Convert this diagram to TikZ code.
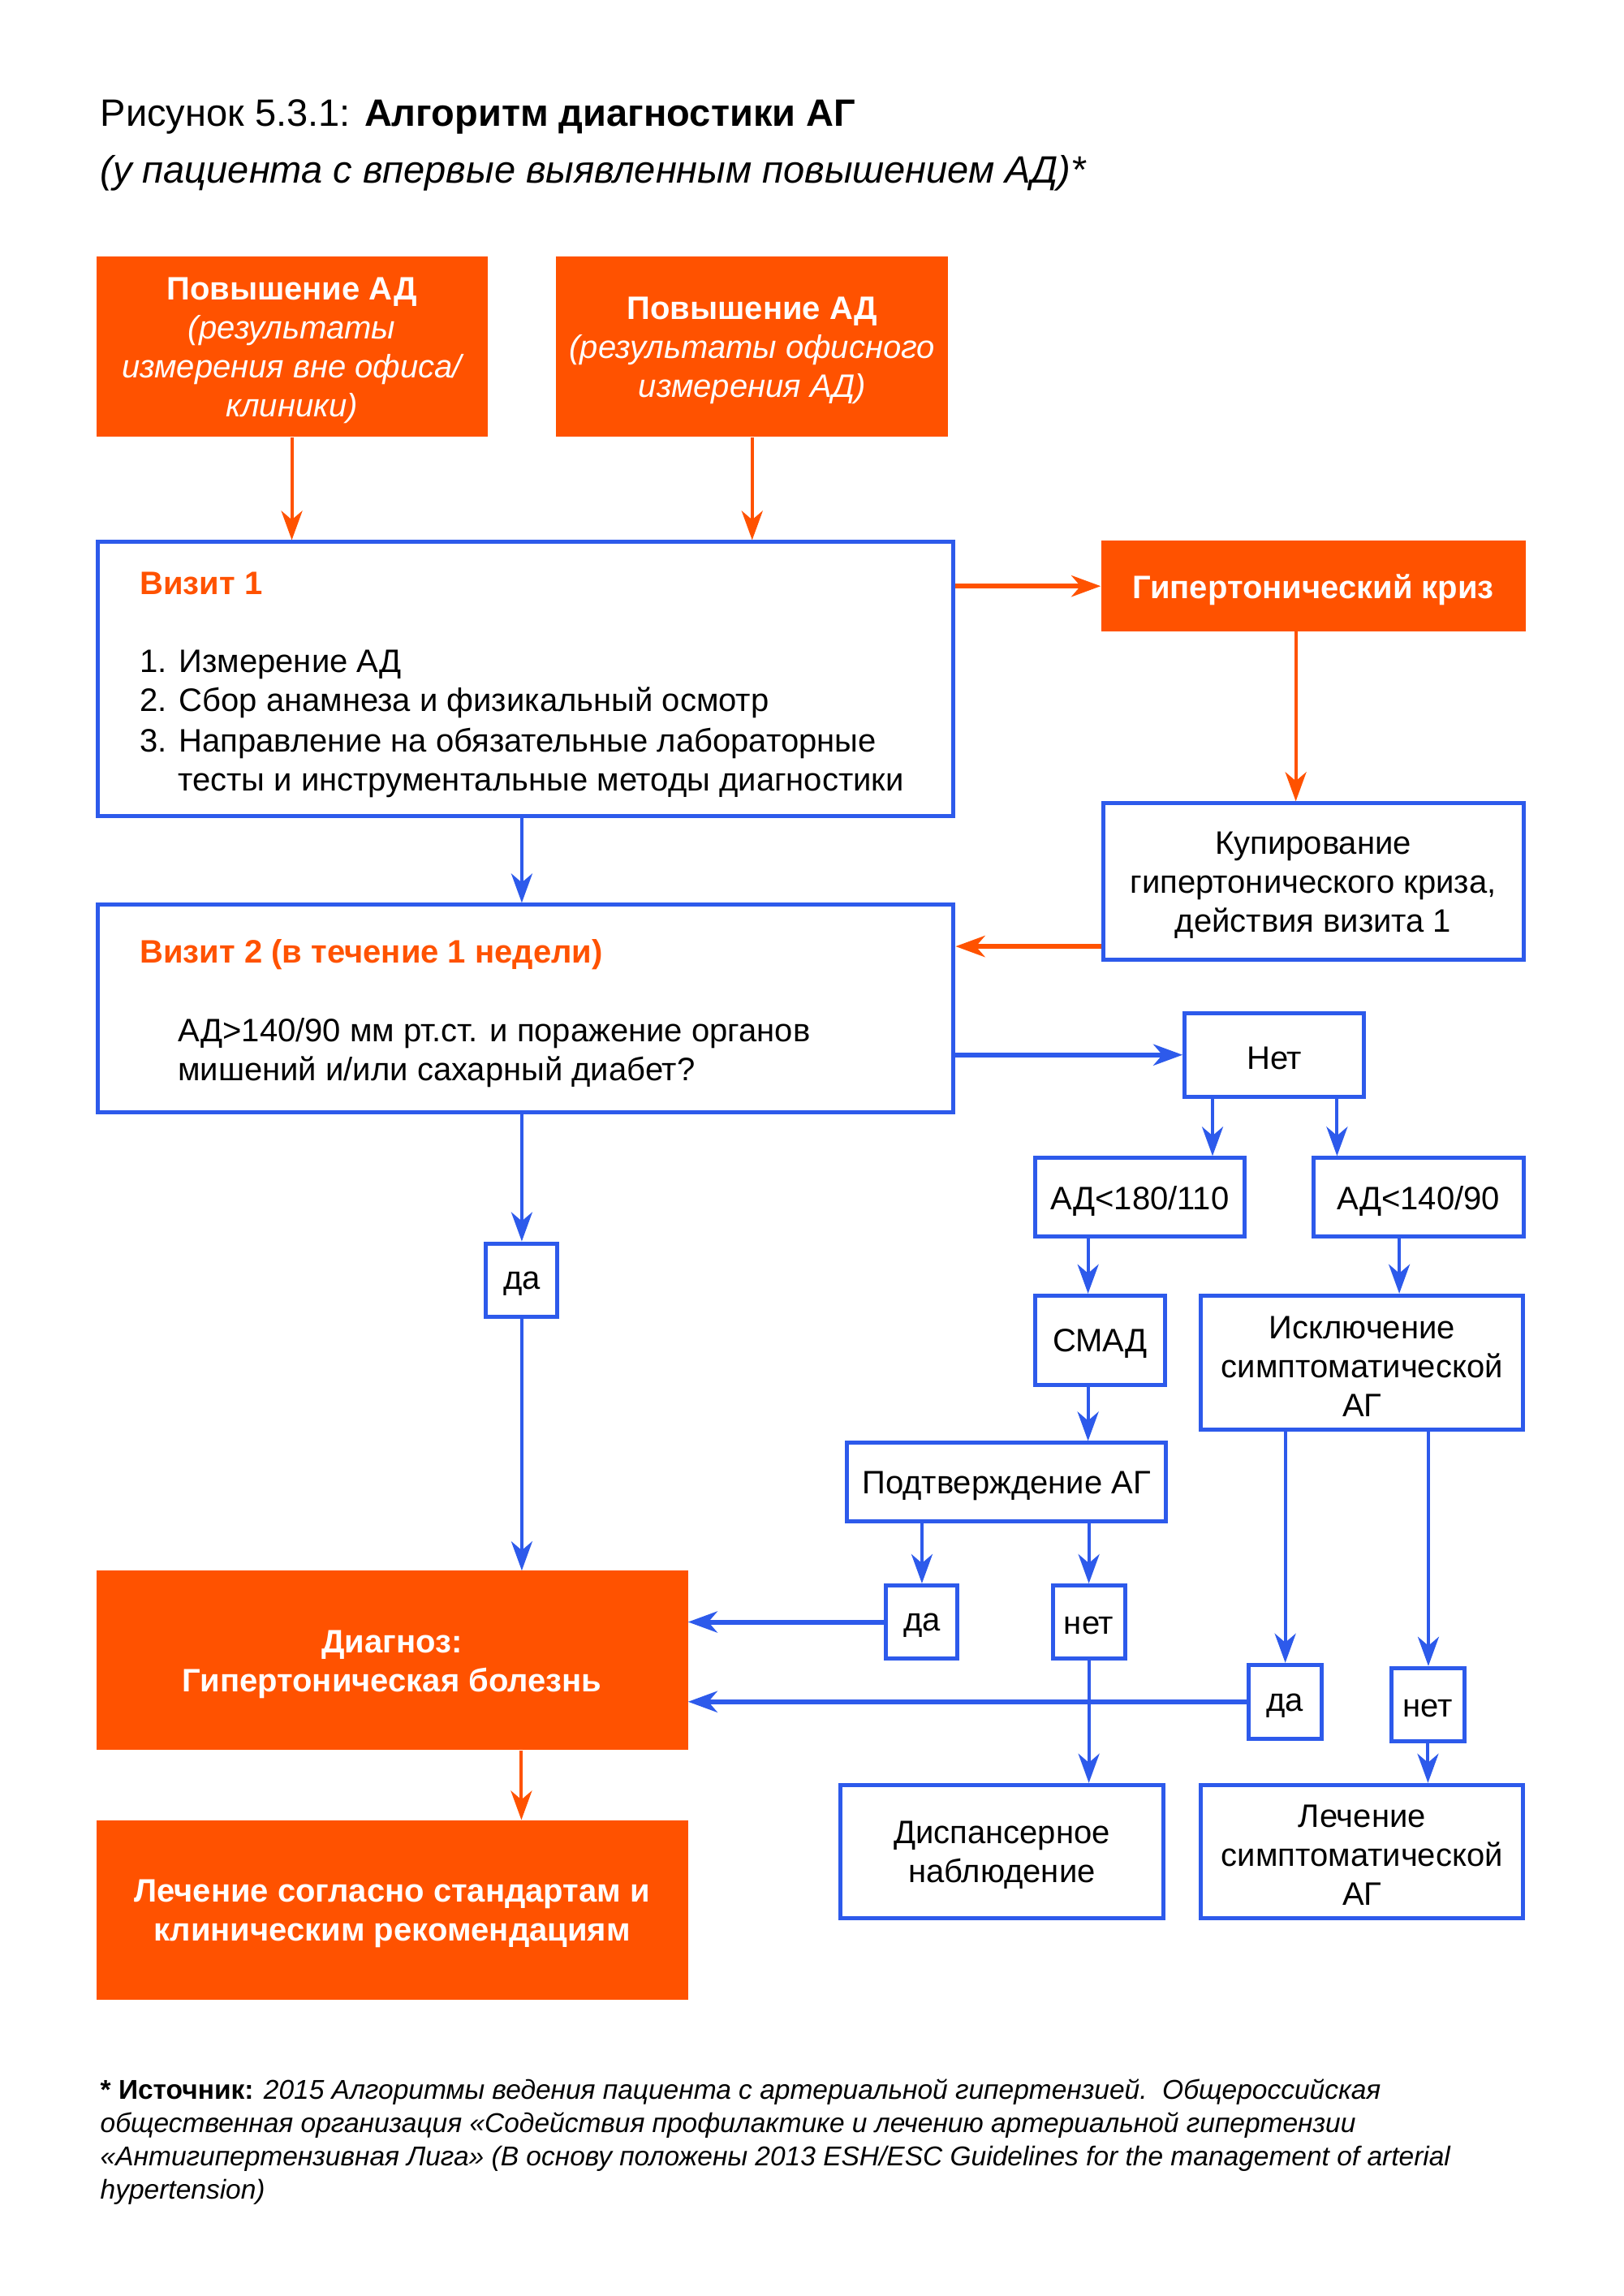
\documentclass[tikz,border=0pt]{standalone}
\usepackage{fontspec}
\setmainfont{Liberation Sans}
\usetikzlibrary{arrows.meta}
\definecolor{agorange}{RGB}{255,82,0}
\definecolor{agblue}{RGB}{45,90,235}
% #1 box style, #2 name, #3 position, #4 size options, #5 text style, #6 text
\newcommand\agbox[6]{%
  \node[#1, #4] (#2) at (#3) {};
  \node[#5] (#2t) at ([yshift=-4.5pt]#2.center) {#6};}
\begin{document}
\begin{tikzpicture}[x=0.996pt,y=-0.9975pt,
  bodyfont/.style={font=\fontsize{40}{48}\selectfont},
  obox/.style={fill=agorange, inner sep=0pt},
  bbox/.style={draw=agblue, line width=5pt, fill=white, inner sep=0pt},
  wtext/.style={text=white, align=center, inner sep=0pt, bodyfont},
  wbtext/.style={text=white, align=center, inner sep=0pt, font=\fontsize{40}{48}\selectfont\bfseries},
  ktext/.style={text=black, align=center, inner sep=0pt, bodyfont},
  lbl/.style={anchor=base west, inner sep=0pt, bodyfont},
  tip/.style={-{Stealth[length=36pt,width=26pt,inset=11pt]}},
  barr/.style={draw=agblue, line width=4pt, tip},
  barrh/.style={draw=agblue, line width=6pt, tip},
  oarr/.style={draw=agorange, line width=4pt, tip},
  oarrh/.style={draw=agorange, line width=6.5pt, tip}
]
\useasboundingbox[fill=white] (0,0) rectangle (2008.03,2836.09);

% title
\node[anchor=base west, inner sep=0pt, font=\fontsize{47}{52}\selectfont] (title) at (124,156) {Рисунок 5.3.1: \textbf{Алгоритм диагностики АГ}};
\node[anchor=base west, inner sep=0pt, font=\fontsize{47}{52}\selectfont\itshape] (subtitle) at (124,226) {(у пациента с впервые выявленным повышением АД)*};

% column coordinates
\coordinate (xa) at (1603,0);
\coordinate (xnl) at (1500,0);
\coordinate (xnr) at (1654,0);
\coordinate (xsm) at (1346,0);
\coordinate (xis) at (1731,0);
\coordinate (xda3) at (1590,0);
\coordinate (xnet3) at (1767,0);
\coordinate (xfin) at (645,0);
\coordinate (ykup) at (0,1169);

% boxes
\agbox{obox}{b1}{361,428.5}{minimum width=482pt, minimum height=222pt}{wtext}
  {\textbf{Повышение АД}\\ \itshape (результаты\\ \itshape измерения вне офиса/\\ \itshape клиники)}
\agbox{obox}{b2}{930.5,428.5}{minimum width=483pt, minimum height=222pt}{wtext}
  {\textbf{Повышение АД}\\ \itshape (результаты офисного\\ \itshape измерения АД)}

\node[bbox, minimum width=1054pt, minimum height=338pt] (v1) at (650.5,839) {};
\node[lbl, text=agorange, font=\fontsize{40}{48}\selectfont\bfseries] (v1t) at (173,734) {Визит 1};
\node[lbl] (v1a) at (173,831) {1. Измерение АД};
\node[lbl] (v1b) at (173,879) {2. Сбор анамнеза и физикальный осмотр};
\node[lbl] (v1c) at (173,929) {3. Направление на обязательные лабораторные};
\node[lbl] (v1d) at (220,977) {тесты и инструментальные методы диагностики};

\agbox{obox}{crisis}{1624.5,724}{minimum width=523pt, minimum height=112pt}{wbtext}{Гипертонический криз}
\agbox{bbox}{kup}{1624.5,1089}{minimum width=518pt, minimum height=193pt}{ktext}
  {Купирование\\ гипертонического криза,\\ действия визита 1}

\node[bbox, minimum width=1054pt, minimum height=256pt] (v2) at (650.5,1246) {};
\node[lbl, text=agorange, font=\fontsize{40}{48}\selectfont\bfseries] (v2t) at (173,1189) {Визит 2 (в течение 1 недели)};
\node[lbl] (v2a) at (220,1287) {АД>140/90 мм рт.ст. и поражение органов};
\node[lbl] (v2b) at (220,1335) {мишений и/или сахарный диабет?};

\agbox{bbox}{net}{1576.5,1303}{minimum width=221pt, minimum height=103pt}{ktext}{Нет}
\agbox{bbox}{a180}{1410,1479}{minimum width=258pt, minimum height=97pt}{ktext}{АД<180/110}
\agbox{bbox}{a140}{1754.5,1479}{minimum width=259pt, minimum height=97pt}{ktext}{АД<140/90}
\agbox{bbox}{da1}{645.5,1581}{minimum width=88pt, minimum height=90pt}{ktext}{да}
\agbox{bbox}{smad}{1361,1655.5}{minimum width=160pt, minimum height=110pt}{ktext}{СМАД}
\agbox{bbox}{iskl}{1685,1683}{minimum width=397pt, minimum height=165pt}{ktext}
  {Исключение\\ симптоматической\\ АГ}
\agbox{bbox}{podt}{1245,1831}{minimum width=393pt, minimum height=97pt}{ktext}{Подтверждение АГ}
\agbox{bbox}{da2}{1140.5,2003.5}{minimum width=88pt, minimum height=90pt}{ktext}{да}
\agbox{bbox}{net2}{1347,2003.5}{minimum width=89pt, minimum height=90pt}{ktext}{нет}
\agbox{obox}{diag}{485,2051}{minimum width=729pt, minimum height=221pt}{wbtext}
  {Диагноз:\\ Гипертоническая болезнь}
\agbox{bbox}{da3}{1589.5,2102}{minimum width=90pt, minimum height=91pt}{ktext}{да}
\agbox{bbox}{net3}{1766.5,2105.5}{minimum width=90pt, minimum height=90pt}{ktext}{нет}
\agbox{bbox}{disp}{1239.5,2287}{minimum width=398pt, minimum height=164pt}{ktext}
  {Диспансерное\\ наблюдение}
\agbox{bbox}{lech}{1685,2287}{minimum width=397pt, minimum height=164pt}{ktext}
  {Лечение\\ симптоматической\\ АГ}
\agbox{obox}{final}{485,2359}{minimum width=729pt, minimum height=221pt}{wbtext}
  {Лечение согласно стандартам и\\ клиническим рекомендациям}

% connectors
\draw[oarr] (b1.south) -- (b1.south |- v1.north);
\draw[oarr] (b2.south) -- (b2.south |- v1.north);
\draw[oarrh] (v1.east |- crisis) -- (crisis.west);
\draw[oarr] (crisis.south -| xa) -- (kup.north -| xa);
\draw[oarrh] (kup.west |- ykup) -- (v2.east |- ykup);
\draw[barr] (v1.south -| da1) -- (v2.north -| da1);
\draw[barrh] (v2.east |- net) -- (net.west);
\draw[barr] (net.south -| xnl) -- (a180.north -| xnl);
\draw[barr] (net.south -| xnr) -- (a140.north -| xnr);
\draw[barr] (v2.south -| da1) -- (da1.north);
\draw[barr] (da1.south) -- (diag.north -| da1);
\draw[barr] (a180.south -| xsm) -- (smad.north -| xsm);
\draw[barr] (a140.south -| xis) -- (iskl.north -| xis);
\draw[barr] (smad.south -| xsm) -- (podt.north -| xsm);
\draw[barr] (podt.south -| da2) -- (da2.north);
\draw[barr] (podt.south -| net2) -- (net2.north);
\draw[barrh] (da2.west) -- (diag.east |- da2);
\draw[barr] (net2.south) -- (disp.north -| net2);
\draw[barr] (iskl.south -| xda3) -- (da3.north -| xda3);
\draw[barr] (iskl.south -| xnet3) -- (net3.north -| xnet3);
\draw[barrh] (da3.west) -- (diag.east |- da3);
\draw[barr] (net3.south) -- (lech.north -| net3);
\draw[oarr] (diag.south -| xfin) -- (final.north -| xfin);

% footer
\begin{scope}[every node/.style={anchor=base west, inner sep=0pt, font=\fontsize{33.5}{40}\selectfont\itshape}]
\node (f1) at (124,2593) {\upshape\bfseries * Источник: \mdseries\itshape 2015 Алгоритмы ведения пациента с артериальной гипертензией.\ \ Общероссийская};
\node (f2) at (124,2634) {общественная организация «Содействия профилактике и лечению артериальной гипертензии};
\node (f3) at (124,2675) {«Антигипертензивная Лига» (В основу положены 2013 ESH/ESC Guidelines for the management of arterial};
\node (f4) at (124,2716) {hypertension)};
\end{scope}
\end{tikzpicture}
\end{document}
